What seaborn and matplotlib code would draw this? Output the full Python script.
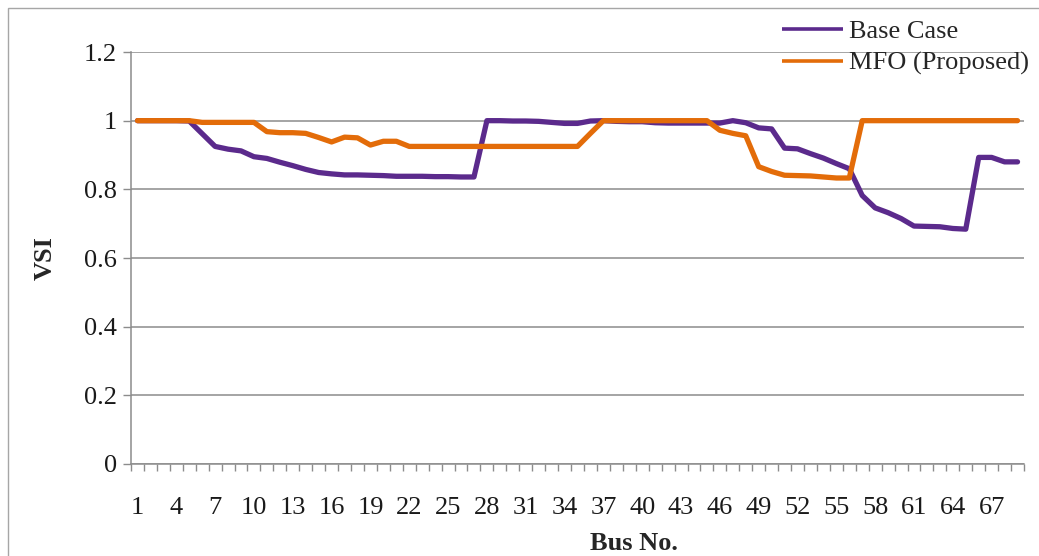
import numpy as np
import pandas as pd
import matplotlib
matplotlib.use("Agg")
import matplotlib.pyplot as plt
from matplotlib.patches import Rectangle
from matplotlib.ticker import FixedLocator
import seaborn as sns

# Voltage stability index per bus (IEEE 69-bus feeder)
bus_no = list(range(1, 70))

base_case = [
    1.000, 1.000, 1.000, 1.000, 0.999,
    0.962, 0.925, 0.917, 0.912, 0.895, 0.890, 0.879, 0.869, 0.858, 0.849,
    0.845, 0.842, 0.842, 0.841, 0.840, 0.838, 0.838, 0.838, 0.837, 0.837, 0.836, 0.836,
    1.000, 1.000, 0.999, 0.999, 0.998, 0.995, 0.992, 0.992,
    0.999, 1.000, 0.998, 0.997, 0.997, 0.994, 0.993, 0.993, 0.993, 0.993, 0.993,
    1.000, 0.994, 0.979, 0.976, 0.920, 0.918, 0.904, 0.891, 0.875, 0.860,
    0.782, 0.746, 0.732, 0.715, 0.693, 0.692, 0.691, 0.686, 0.684,
    0.893, 0.893, 0.880, 0.880,
]

mfo_proposed = [
    1.000, 1.000, 1.000, 1.000, 1.000,
    0.995, 0.995, 0.995, 0.995, 0.995,
    0.968, 0.965, 0.965, 0.963, 0.951,
    0.938, 0.952, 0.950, 0.929, 0.940, 0.940,
    0.925, 0.925, 0.925, 0.925, 0.925, 0.925, 0.925,
    0.925, 0.925, 0.925, 0.925, 0.925, 0.925, 0.925,
    0.963,
    1.000, 1.000, 1.000, 1.000, 1.000, 1.000, 1.000, 1.000, 1.000,
    0.972, 0.963, 0.956,
    0.866, 0.852, 0.841, 0.840, 0.839, 0.836, 0.833, 0.833,
    1.000, 1.000, 1.000, 1.000, 1.000, 1.000, 1.000,
    1.000, 1.000, 1.000, 1.000, 1.000, 1.000,
]

series_names = ["Base Case", "MFO (Proposed)"]
series_colors = ["#5B2A8C", "#E36C09"]
x_tick_labels = [str(b) for b in bus_no[::3]]
y_ticks = [0, 0.2, 0.4, 0.6, 0.8, 1.0, 1.2]
y_tick_labels = ["0", "0.2", "0.4", "0.6", "0.8", "1", "1.2"]

df = pd.DataFrame({
    "Bus No.": bus_no * 2,
    "VSI": base_case + mfo_proposed,
    "Series": [series_names[0]] * len(bus_no) + [series_names[1]] * len(bus_no),
})

sns.set_style("white")
plt.rcParams["font.family"] = ["Liberation Serif", "DejaVu Serif"]

W, H = 1039, 556
fig = plt.figure(figsize=(W / 100, H / 100), dpi=100)
ax = fig.add_axes([131 / W, 1 - 464 / H, 893 / W, 412 / H])

for name, color in zip(series_names, series_colors):
    sns.lineplot(data=df[df["Series"] == name], x="Bus No.", y="VSI",
                 color=color, linewidth=3.8, label=name, ax=ax,
                 solid_capstyle="round", solid_joinstyle="round", legend=False)

grid_color = "#8C8C8C"
ax.set_xlim(0.5, 69.5)
ax.set_ylim(0, 1.2)
ax.set_yticks(y_ticks)
ax.set_yticklabels(y_tick_labels)
ax.yaxis.grid(True, color=grid_color, linewidth=1.1)
ax.xaxis.grid(False)
ax.set_axisbelow(True)

ax.xaxis.set_major_locator(FixedLocator(bus_no[::3]))
ax.set_xticklabels(x_tick_labels)
ax.xaxis.set_minor_locator(FixedLocator(np.arange(0.5, 70.0, 1.0)))

for s in ["top", "right"]:
    ax.spines[s].set_visible(False)
for s in ["left", "bottom"]:
    ax.spines[s].set_color(grid_color)
    ax.spines[s].set_linewidth(1.1)

ax.tick_params(axis="x", which="major", bottom=True, length=0, pad=24,
               labelsize=19, colors="#1a1a1a")
ax.tick_params(axis="x", which="minor", bottom=True, length=5, width=1.0,
               color=grid_color, direction="out")
ax.tick_params(axis="y", which="major", left=True, length=6, width=1.0, color=grid_color,
               direction="out", pad=4, labelsize=19, labelcolor="#1a1a1a")

ax.set_xlabel("Bus No.", fontsize=19, fontweight="bold")
ax.set_ylabel("VSI", fontsize=19, fontweight="bold")
ax.xaxis.set_label_coords((634 - 131) / 893, -(543 - 464) / 412)
ax.xaxis.label.set_va("center")
ax.yaxis.set_label_coords((45 - 131) / 893, 0.5)
ax.yaxis.label.set_va("center")

handles, labels = ax.get_legend_handles_labels()
leg = ax.legend(handles, labels, loc="upper left",
                bbox_to_anchor=(782 / W, 1 - 20 / H), bbox_transform=fig.transFigure,
                frameon=False, fontsize=19, borderpad=0, borderaxespad=0,
                handlelength=2.3, handletextpad=0.25, labelspacing=0.3)
for line in leg.get_lines():
    line.set_linewidth(2.6)
    line.set_solid_capstyle("butt")

# chart-area border
fig.patches.append(Rectangle((8 / W, -0.1), 1.2, 1 - 8 / H + 0.1,
                             transform=fig.transFigure, fill=False,
                             edgecolor="#A6A6A6", linewidth=1.0))

fig.savefig("out.png", dpi=100)
